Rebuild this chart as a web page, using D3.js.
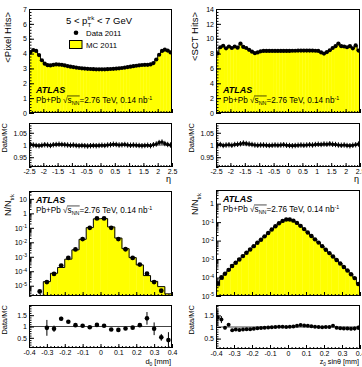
<!DOCTYPE html>
<html>
<head>
<meta charset="utf-8">
<script src="https://cdn.jsdelivr.net/npm/d3@7"></script>
<style>
  body { margin: 0; background: #fff; }
  svg text { font-family: "Liberation Sans", Arial, Helvetica, sans-serif; fill: #000; white-space: pre; }
</style>
</head>
<body>
<svg id="chart" width="362" height="367"></svg>
<script>
// ---------- data ----------
// eta binning, 0.1 wide, lower edges
const etaBins = d3.range(50).map(i => Math.round((-2.5 + i * 0.1) * 10) / 10);

const pixelData = [
  4.10, 4.24, 4.18, 3.90, 3.55, 3.32, 3.22, 3.20, 3.24, 3.27,
  3.26, 3.24, 3.20, 3.16, 3.12, 3.09, 3.06, 3.03, 3.01, 2.99,
  2.97, 2.96, 2.95, 2.94, 2.94, 2.94, 2.94, 2.95, 2.96, 2.97,
  2.99, 3.01, 3.03, 3.06, 3.09, 3.12, 3.15, 3.18, 3.21, 3.23,
  3.24, 3.24, 3.27, 3.36, 3.60, 3.92, 4.18, 4.26, 4.20, 4.08
];
const pixelRatio = [
  1.002, 1.000, 0.998, 0.997, 0.999, 1.001, 1.000, 0.998, 1.001, 1.002,
  1.003, 1.002, 1.001, 1.000, 0.999, 1.000, 0.998, 0.997, 0.998, 0.997,
  0.996, 0.997, 0.998, 0.997, 0.998, 0.999, 0.998, 1.000, 1.001, 1.003,
  1.002, 1.000, 1.001, 1.002, 1.000, 0.999, 1.000, 0.999, 0.998, 0.997,
  0.998, 0.999, 0.997, 1.001, 1.004, 1.010, 1.012, 1.006, 1.002, 1.000
];

const sctData = [
  8.00, 8.85, 9.05, 8.70, 8.95, 8.75, 8.95, 8.80, 9.35, 8.90,
  8.75, 8.50, 8.25, 8.05, 8.15, 8.30, 8.35, 8.35, 8.35, 8.35,
  8.35, 8.35, 8.35, 8.35, 8.35, 8.35, 8.38, 8.38, 8.40, 8.40,
  8.40, 8.40, 8.40, 8.40, 8.38, 8.35, 8.15, 8.00, 8.20, 8.45,
  8.75, 9.00, 9.35, 9.00, 8.95, 8.85, 9.00, 8.70, 9.10, 8.40
];
const sctRatio = [
  1.000, 1.002, 0.998, 1.000, 1.001, 0.999, 1.002, 1.003, 1.005, 1.008,
  1.006, 1.004, 1.002, 1.000, 0.999, 1.000, 1.000, 0.999, 0.998, 0.999,
  1.000, 0.999, 1.000, 1.001, 0.999, 0.998, 0.997, 0.998, 0.999, 1.000,
  0.999, 1.000, 1.001, 1.000, 1.002, 1.003, 1.002, 1.004, 1.003, 1.005,
  1.003, 1.002, 1.000, 0.999, 1.000, 0.998, 0.997, 0.999, 1.001, 1.004
];

// d0 binning, 0.04 mm wide
const d0Bins = d3.range(20).map(i => Math.round((-0.4 + i * 0.04) * 100) / 100);
const d0Data = [
  null, 4.0e-6, 1.8e-5, 6.5e-5, 2.45e-4, 8.3e-4, 3.2e-3, 1.66e-2, 0.100, 0.447,
  0.447, 0.100, 1.66e-2, 3.3e-3, 8.3e-4, 2.9e-4, 6.8e-5, 1.8e-5, 4.5e-6, 1.1e-6
];
const d0Ratio = [
  null, null, 0.94, 0.90, 1.34, 1.21, 1.06, 1.03, 0.97, 1.07,
  1.03, 0.87, 0.85, 0.91, 0.95, 1.06, 1.36, 0.90, 0.52, 0.40
];
const d0RatioErr = [
  null, null, 0.35, 0.14, 0.09, 0.05, 0.04, 0.03, 0.03, 0.03,
  0.03, 0.03, 0.03, 0.04, 0.04, 0.06, 0.28, 0.28, 0.15, 0.35
];

// z0 sin(theta) binning, 0.02 mm wide
const z0Bins = d3.range(40).map(i => Math.round((-0.4 + i * 0.02) * 100) / 100);
const z0Data = [
  5.0e-5, 1.05e-4, 1.6e-4, 2.6e-4, 4.2e-4, 6.3e-4, 9.5e-4, 1.45e-3, 2.2e-3, 3.3e-3,
  5.0e-3, 7.6e-3, 1.12e-2, 1.7e-2, 2.6e-2, 4.0e-2, 6.0e-2, 8.7e-2, 0.117, 0.138,
  0.138, 0.120, 0.091, 0.063, 0.042, 0.0275, 0.0178, 0.0117, 7.8e-3, 5.0e-3,
  3.2e-3, 2.1e-3, 1.38e-3, 8.9e-4, 5.8e-4, 3.7e-4, 2.4e-4, 1.5e-4, 9.3e-5, 4.5e-5
];
const z0Ratio = [
  1.40, 1.32, 0.97, 1.10, 0.86, 0.89, 0.87, 0.89, 0.90, 0.90,
  0.92, 0.95, 0.96, 0.97, 0.98, 0.99, 1.00, 1.01, 1.01, 1.00,
  1.01, 1.02, 1.05, 1.09, 1.07, 1.05, 1.03, 1.01, 1.00, 0.99,
  1.00, 1.00, 1.05, 0.97, 0.95, 0.93, 0.93, 0.92, 0.93, 0.97
];
const z0RatioErr = [
  0.35, 0.15, 0.07, 0.05, 0.04, 0.03, 0.03, 0.03, 0.03, 0.03,
  0.03, 0.03, 0.03, 0.03, 0.03, 0.03, 0.03, 0.03, 0.03, 0.03,
  0.03, 0.03, 0.03, 0.03, 0.03, 0.03, 0.03, 0.03, 0.03, 0.03,
  0.03, 0.03, 0.03, 0.03, 0.04, 0.04, 0.05, 0.06, 0.08, 0.10
];

const etaTicks = [-2.5, -2, -1.5, -1, -0.5, 0, 0.5, 1, 1.5, 2, 2.5];
const mmTicks = [-0.4, -0.3, -0.2, -0.1, 0, 0.1, 0.2, 0.3, 0.4];

// ---------- drawing ----------
const svg = d3.select("#chart");
const defs = svg.append("defs");
const YELLOW = "#ffff00";

// text made of pieces (sub/superscripts), laid out left to right
function rich(parent, x, y, parts, size, opts = {}) {
  const outer = parent.append("g");
  const g = outer.append("g");
  let cx = 0, prevStart = 0, overA = null, overB = null;
  parts.forEach(p => {
    if (typeof p === "string") p = { t: p };
    const fs = size * (p.scale || 1);
    const px = p.stack ? prevStart : cx;
    const t = g.append("text").attr("x", px).attr("y", (p.dy || 0) * size)
      .attr("font-size", fs).text(p.t);
    if (p.bold) t.attr("font-weight", "bold");
    if (p.italic) t.attr("font-style", "italic");
    const w = t.node().getComputedTextLength();
    if (p.over) {
      if (overA === null) overA = px;
      overB = px + w;
    }
    if (!p.stack) prevStart = px;
    cx = Math.max(cx, px + w);
  });
  if (overA !== null) {
    g.append("line").attr("x1", overA - 0.5).attr("x2", overB + 0.3)
      .attr("y1", -size * 0.86).attr("y2", -size * 0.86)
      .attr("stroke", "#000").attr("stroke-width", 0.7);
  }
  const shift = opts.anchor === "end" ? -cx : opts.anchor === "middle" ? -cx / 2 : 0;
  g.attr("transform", `translate(${shift},0)`);
  outer.attr("transform", `translate(${x},${y})` + (opts.rotate ? " rotate(-90)" : ""));
  return outer;
}

function axisPair(g, kind, scale, major, minor, len, fmt, pad) {
  const mk = kind === "left" ? d3.axisLeft : d3.axisBottom;
  const a = g.append("g").call(mk(scale).tickValues(major).tickSize(-len)
    .tickPadding(pad).tickFormat(fmt || (() => "")));
  a.attr("font-size", 7).attr("font-family", null);
  a.select(".domain").remove();
  if (minor) {
    const b = g.append("g").call(mk(scale).tickValues(minor).tickSize(-len / 2).tickFormat(() => ""));
    b.select(".domain").remove();
  }
  return a;
}

const fmtNum = d => String(+d.toFixed(2));
const steps = (a, b, s) => d3.range(Math.round((b - a) / s) + 1).map(i => +(a + i * s).toFixed(4));

function panel(c) {
  const x = d3.scaleLinear().domain(c.xDomain).range([c.left, c.right]);
  const y = (c.log ? d3.scaleLog() : d3.scaleLinear()).domain(c.yDomain).range([c.bottom, c.top]);
  const yr = d3.scaleLinear().domain(c.rDomain).range([c.rBottom, c.rTop]);

  defs.append("clipPath").attr("id", c.id + "m").append("rect")
    .attr("x", c.left).attr("y", c.top).attr("width", c.right - c.left).attr("height", c.bottom - c.top);
  defs.append("clipPath").attr("id", c.id + "r").append("rect")
    .attr("x", c.left).attr("y", c.rTop).attr("width", c.right - c.left).attr("height", c.rBottom - c.rTop);

  const bins = c.bins.map((lo, i) => ({
    lo, hi: lo + c.width, mid: lo + c.width / 2,
    data: c.data[i], ratio: c.ratio[i],
    mc: c.ratio[i] ? c.data[i] / c.ratio[i] : null,
    err: Array.isArray(c.err) ? c.err[i] : c.err
  }));

  // ---- main pad ----
  const m = svg.append("g").attr("clip-path", `url(#${c.id}m)`);
  const filled = bins.filter(b => b.mc !== null);
  const yv = v => Math.min(y(v), c.bottom + 2);
  m.selectAll("rect.mc").data(filled).join("rect").attr("class", "mc")
    .attr("x", b => x(b.lo)).attr("width", b => x(b.hi) - x(b.lo) + 0.3)
    .attr("y", b => yv(b.mc)).attr("height", b => Math.max(0, c.bottom + 2 - yv(b.mc)))
    .attr("fill", YELLOW);
  const pts = [[filled[0].lo, null]];
  filled.forEach(b => { pts.push([b.lo, b.mc], [b.hi, b.mc]); });
  pts.push([filled[filled.length - 1].hi, null]);
  m.append("path")
    .attr("d", d3.line().x(p => x(p[0])).y(p => p[1] === null ? c.bottom + 2 : yv(p[1]))(pts))
    .attr("fill", "none").attr("stroke", "#000").attr("stroke-width", 1);
  m.selectAll("circle.dat").data(bins.filter(b => b.data !== null)).join("circle")
    .attr("cx", b => x(b.mid)).attr("cy", b => y(b.data)).attr("r", c.markR).attr("fill", "#000");

  svg.append("rect").attr("x", c.left + 0.5).attr("y", c.top + 0.5)
    .attr("width", c.right - c.left - 1).attr("height", c.bottom - c.top - 1)
    .attr("fill", "none").attr("stroke", "#000");

  // axes main
  axisPair(svg.append("g").attr("transform", `translate(0,${c.bottom})`), "bottom", x,
    c.xMajor, c.xMinor, 4, null, 2);
  const ya = axisPair(svg.append("g").attr("transform", `translate(${c.left},0)`), "left", y,
    c.yMajor, c.yMinor, 5, c.log ? (d => d) : fmtNum, 2);
  if (c.log) {
    ya.selectAll(".tick text").each(function (d) {
      const e = Math.round(Math.log10(d));
      const t = d3.select(this).text(null);
      if (e === 0) t.text("1");
      else if (e === 1) t.text("10");
      else {
        t.append("tspan").text("10");
        t.append("tspan").attr("dy", "-0.45em").attr("font-size", "0.72em").text(e);
      }
    });
  }

  // ---- ratio pad ----
  const r = svg.append("g").attr("clip-path", `url(#${c.id}r)`);
  r.append("line").attr("x1", c.left).attr("x2", c.right).attr("y1", yr(1)).attr("y2", yr(1))
    .attr("stroke", "#444").attr("stroke-width", 1);
  const rb = bins.filter(b => b.ratio !== null);
  r.selectAll("line.ey").data(rb).join("line").attr("class", "ey")
    .attr("x1", b => x(b.mid)).attr("x2", b => x(b.mid))
    .attr("y1", b => yr(b.ratio - b.err)).attr("y2", b => yr(b.ratio + b.err))
    .attr("stroke", "#000").attr("stroke-width", 1);
  if (c.xErr) {
    r.selectAll("line.ex").data(rb).join("line").attr("class", "ex")
      .attr("x1", b => x(b.lo)).attr("x2", b => x(b.hi))
      .attr("y1", b => yr(b.ratio)).attr("y2", b => yr(b.ratio))
      .attr("stroke", "#000").attr("stroke-width", 2.4);
  }
  r.selectAll("circle").data(rb).join("circle")
    .attr("cx", b => x(b.mid)).attr("cy", b => yr(b.ratio)).attr("r", c.rMarkR).attr("fill", "#000");

  svg.append("rect").attr("x", c.left + 0.5).attr("y", c.rTop + 0.5)
    .attr("width", c.right - c.left - 1).attr("height", c.rBottom - c.rTop - 1)
    .attr("fill", "none").attr("stroke", "#000");

  axisPair(svg.append("g").attr("transform", `translate(0,${c.rBottom})`), "bottom", x,
    c.xMajor, c.xMinor, 4, fmtNum, 2);
  axisPair(svg.append("g").attr("transform", `translate(${c.left},0)`), "left", yr,
    c.rMajor, c.rMinor, 5, fmtNum, 2);

  // titles
  rich(svg, c.left - 18, c.top + 3, c.yTitle, c.yTitleSize, { anchor: "end", rotate: true });
  rich(svg, c.left - 22, c.rTop, ["Data/MC"], 7.5, { anchor: "end", rotate: true });
  rich(svg, c.right - 1, c.rBottom + c.xTitleDy, c.xTitle, c.xTitleSize, { anchor: "end" });

  // ATLAS labels
  rich(svg, c.left + 7, c.atlasY, [{ t: "ATLAS", bold: true, italic: true }], 9);
  rich(svg, c.left + 7, c.atlasY + 10, [
    "Pb+Pb ", "\u221A", { t: "s", over: true }, { t: "NN", dy: 0.3, scale: 0.65, over: true },
    "=2.76 TeV, 0.14 nb", { t: "-1", dy: -0.42, scale: 0.65 }
  ], 8.2);
}

const logMinor = (lo, hi) => {
  const out = [];
  for (let e = -7; e <= 2; e++) for (let k = 2; k <= 9; k++) {
    const v = k * Math.pow(10, e);
    if (v >= lo && v <= hi) out.push(v);
  }
  return out;
};

// Pixel hits
panel({
  id: "p1", left: 29, right: 172, top: 9, bottom: 113, rTop: 123, rBottom: 167,
  bins: etaBins, width: 0.1, data: pixelData, ratio: pixelRatio, err: 0.011, xErr: true,
  xDomain: [-2.5, 2.5], yDomain: [0, 7], rDomain: [0.91, 1.09],
  xMajor: etaTicks, xMinor: steps(-2.5, 2.5, 0.1),
  yMajor: steps(0, 7, 1), yMinor: steps(0, 7, 0.2),
  rMajor: [0.95, 1, 1.05], rMinor: steps(0.91, 1.09, 0.01),
  markR: 2.1, rMarkR: 1.6,
  yTitle: ["<Pixel Hits>"], yTitleSize: 9.5, xTitle: ["\u03B7"], xTitleSize: 9, xTitleDy: 14.5,
  atlasY: 93
});

// SCT hits
panel({
  id: "p2", left: 216, right: 360, top: 9, bottom: 113, rTop: 123, rBottom: 167,
  bins: etaBins, width: 0.1, data: sctData, ratio: sctRatio, err: 0.011, xErr: true,
  xDomain: [-2.5, 2.5], yDomain: [0, 14], rDomain: [0.91, 1.09],
  xMajor: etaTicks, xMinor: steps(-2.5, 2.5, 0.1),
  yMajor: steps(0, 14, 2), yMinor: steps(0, 14, 0.4),
  rMajor: [0.95, 1, 1.05], rMinor: steps(0.91, 1.09, 0.01),
  markR: 2.1, rMarkR: 1.6,
  yTitle: ["<SCT Hits>"], yTitleSize: 9.5, xTitle: ["\u03B7"], xTitleSize: 9, xTitleDy: 14.5,
  atlasY: 93
});

// d0
panel({
  id: "p3", left: 29, right: 172, top: 191, bottom: 296, rTop: 305, rBottom: 348,
  bins: d0Bins, width: 0.04, data: d0Data, ratio: d0Ratio, err: d0RatioErr, xErr: false,
  xDomain: [-0.4, 0.4], yDomain: [1.95e-6, 35], log: true, rDomain: [0.05, 1.95],
  xMajor: mmTicks, xMinor: steps(-0.4, 0.4, 0.02),
  yMajor: [1e-5, 1e-4, 1e-3, 1e-2, 1e-1, 1, 10], yMinor: logMinor(1.95e-6, 35),
  rMajor: [0.5, 1, 1.5], rMinor: steps(0.1, 1.9, 0.1),
  markR: 2.4, rMarkR: 2.3,
  yTitle: ["N/N", { t: "trk", dy: 0.3, scale: 0.65 }], yTitleSize: 9,
  xTitle: ["d", { t: "0", dy: 0.3, scale: 0.65 }, " [mm]"], xTitleSize: 7.5, xTitleDy: 16,
  atlasY: 203
});

// z0 sin(theta)
panel({
  id: "p4", left: 216, right: 360, top: 190, bottom: 296, rTop: 305, rBottom: 349,
  bins: z0Bins, width: 0.02, data: z0Data, ratio: z0Ratio, err: z0RatioErr, xErr: false,
  xDomain: [-0.4, 0.4], yDomain: [1e-5, 5.5], log: true, rDomain: [0.05, 1.95],
  xMajor: mmTicks, xMinor: steps(-0.4, 0.4, 0.02),
  yMajor: [1e-5, 1e-4, 1e-3, 1e-2, 1e-1, 1], yMinor: logMinor(1e-5, 5.5),
  rMajor: [0.5, 1, 1.5], rMinor: steps(0.1, 1.9, 0.1),
  markR: 2.2, rMarkR: 2.0,
  yTitle: ["N/N", { t: "trk", dy: 0.3, scale: 0.65 }], yTitleSize: 9,
  xTitle: ["z", { t: "0", dy: 0.3, scale: 0.65 }, " sin\u03B8 [mm]"], xTitleSize: 7.2, xTitleDy: 15,
  atlasY: 202
});

// legend of the pixel panel
rich(svg, 99, 24, ["5 < p", { t: "T", dy: 0.3, scale: 0.65 }, { t: "trk", dy: -0.45, scale: 0.65, stack: true }, " < 7 GeV"],
  9.5, { anchor: "middle" });
svg.append("circle").attr("cx", 76).attr("cy", 32.7).attr("r", 2.3).attr("fill", "#000");
rich(svg, 86, 36, ["Data 2011"], 7.8);
svg.append("rect").attr("x", 69.5).attr("y", 40.5).attr("width", 12.5).attr("height", 8)
  .attr("fill", YELLOW).attr("stroke", "#000");
rich(svg, 86, 47.5, ["MC 2011"], 7.8);
</script>
</body>
</html>
